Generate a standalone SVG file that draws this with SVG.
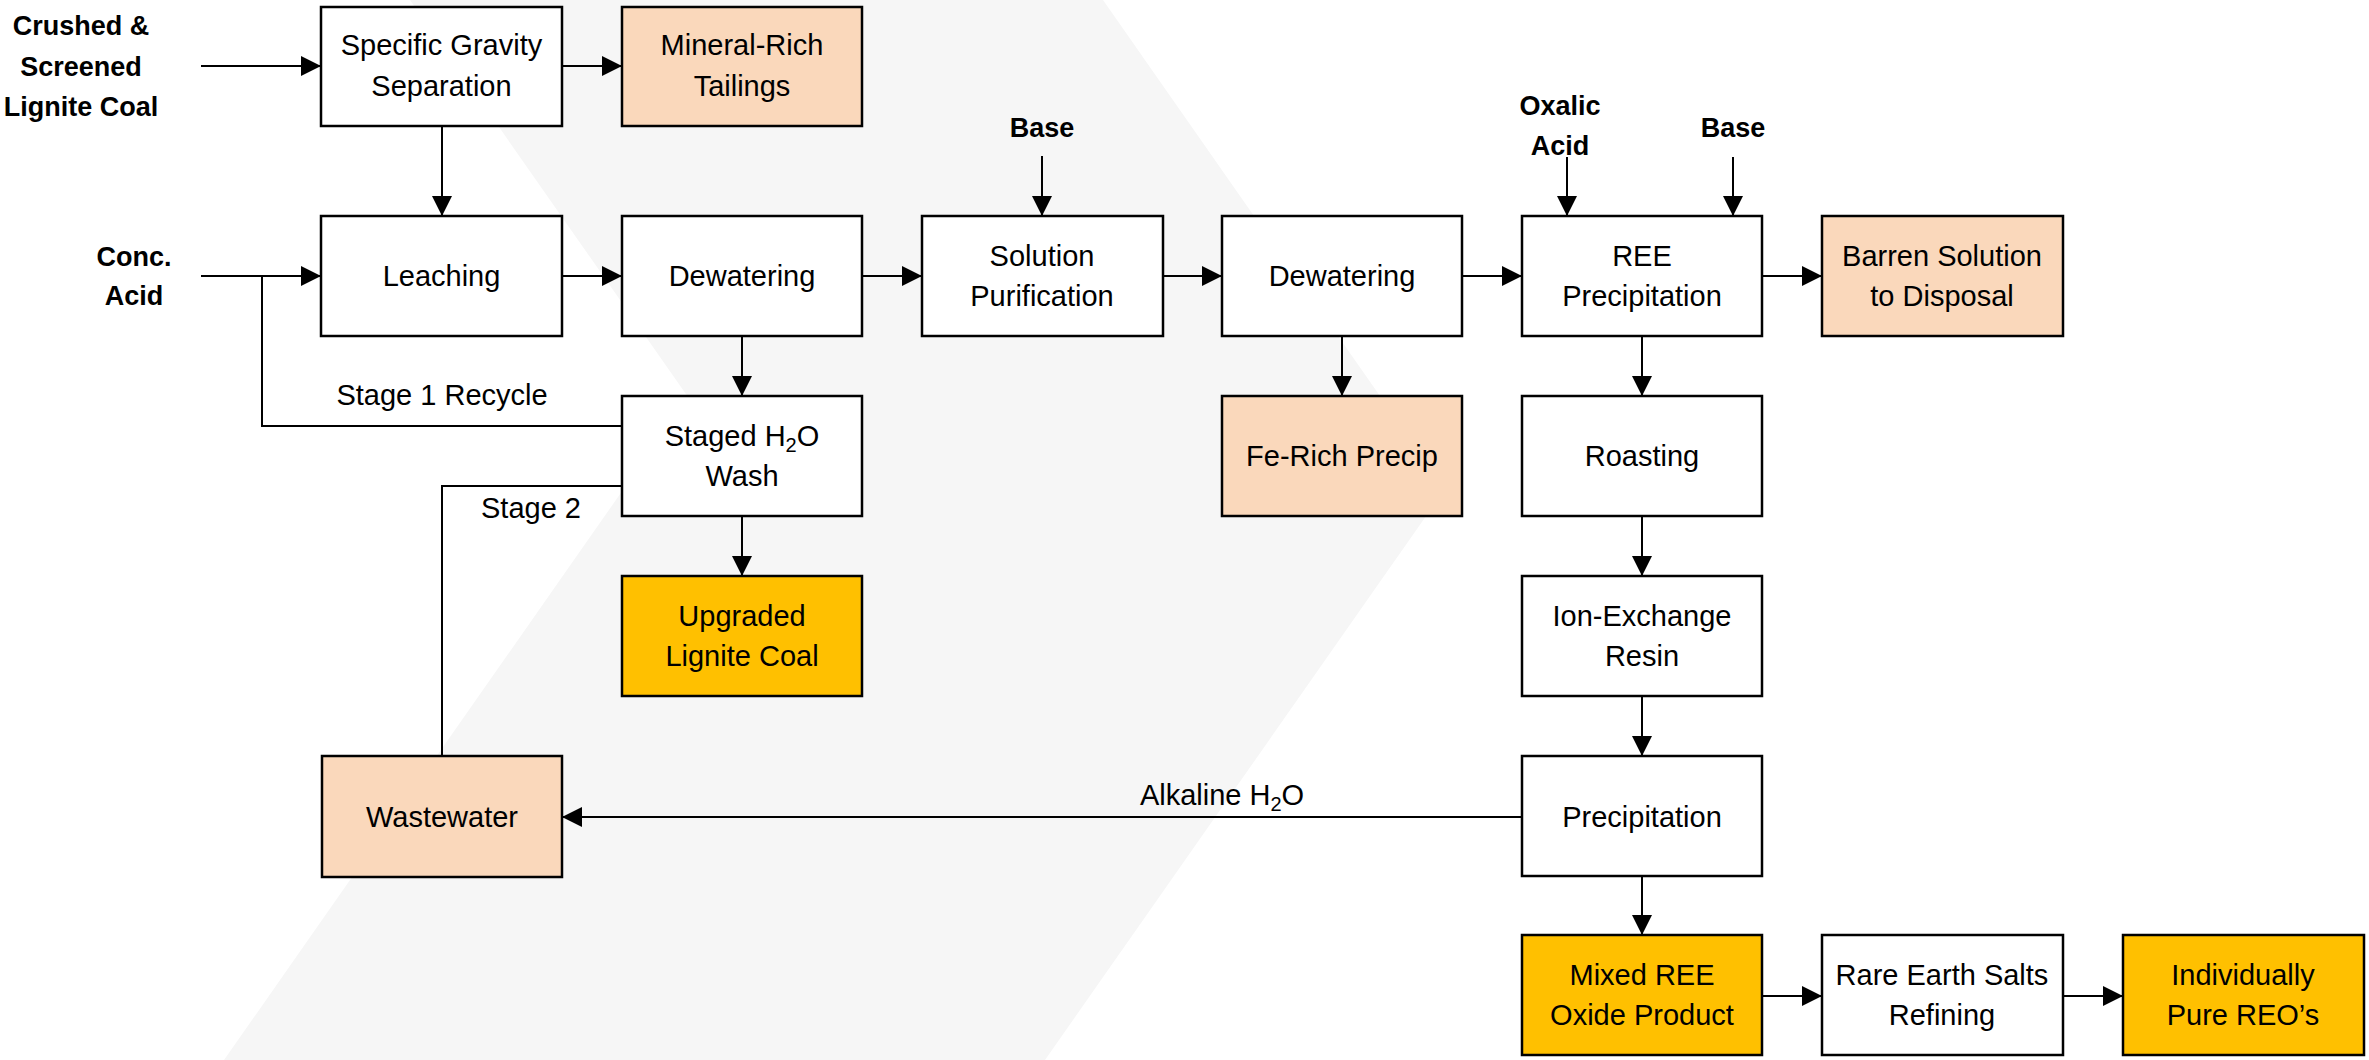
<svg xmlns="http://www.w3.org/2000/svg" width="2369" height="1060" viewBox="0 0 2369 1060">
<style>
.box{stroke:#000;stroke-width:2.5}
.w{fill:#fff}
.p{fill:#FAD8BB}
.g{fill:#FFC000}
.t{font-family:"Liberation Sans",Arial,sans-serif;font-size:29px;text-anchor:middle;fill:#000}
.b{font-family:"Liberation Sans",Arial,sans-serif;font-size:27px;font-weight:bold;text-anchor:middle;fill:#000}
.c{fill:none;stroke:#000;stroke-width:2}
.a{marker-end:url(#arr)}
</style>
<defs>
<marker id="arr" markerUnits="userSpaceOnUse" markerWidth="20" markerHeight="20" refX="20" refY="10" orient="auto">
<path d="M0,0 L20,10 L0,20 z" fill="#000"/>
</marker>
</defs>
<rect width="2369" height="1060" fill="#fff"/>
<polygon points="410,0 1103,0 1445,489 1045,1060 224,1060 688,397" fill="#f6f6f6"/>

<g id="connectors">
<line class="c a" x1="201" y1="66" x2="321" y2="66"/>
<line class="c a" x1="562" y1="66" x2="622" y2="66"/>
<line class="c a" x1="442" y1="126" x2="442" y2="216"/>
<line class="c a" x1="201" y1="276" x2="321" y2="276"/>
<polyline class="c" points="622,426 262,426 262,276"/>
<polyline class="c" points="622,486 442,486 442,756"/>
<line class="c a" x1="562" y1="276" x2="622" y2="276"/>
<line class="c a" x1="862" y1="276" x2="922" y2="276"/>
<line class="c a" x1="1163" y1="276" x2="1222" y2="276"/>
<line class="c a" x1="1462" y1="276" x2="1522" y2="276"/>
<line class="c a" x1="1762" y1="276" x2="1822" y2="276"/>
<line class="c a" x1="1042" y1="156" x2="1042" y2="216"/>
<line class="c a" x1="1567" y1="157" x2="1567" y2="216"/>
<line class="c a" x1="1733" y1="157" x2="1733" y2="216"/>
<line class="c a" x1="742" y1="336" x2="742" y2="396"/>
<line class="c a" x1="742" y1="516" x2="742" y2="576"/>
<line class="c a" x1="1342" y1="336" x2="1342" y2="396"/>
<line class="c a" x1="1642" y1="336" x2="1642" y2="396"/>
<line class="c a" x1="1642" y1="516" x2="1642" y2="576"/>
<line class="c a" x1="1642" y1="696" x2="1642" y2="756"/>
<line class="c a" x1="1522" y1="817" x2="562" y2="817"/>
<line class="c a" x1="1642" y1="876" x2="1642" y2="935"/>
<line class="c a" x1="1762" y1="996" x2="1822" y2="996"/>
<line class="c a" x1="2063" y1="996" x2="2123" y2="996"/>
<text class="t" x="442" y="405">Stage 1 Recycle</text>
<text class="t" x="531" y="518">Stage 2</text>
<text class="t" x="1222" y="805">Alkaline H<tspan font-size="20" dy="6">2</tspan><tspan dy="-6">O</tspan></text>
</g>

<g id="in-crushed">
<text class="b" x="81" y="35">Crushed &amp;</text>
<text class="b" x="81" y="76">Screened</text>
<text class="b" x="81" y="116">Lignite Coal</text>
</g>
<g id="in-acid">
<text class="b" x="134" y="266">Conc.</text>
<text class="b" x="134" y="305">Acid</text>
</g>
<g id="in-base1"><text class="b" x="1042" y="137">Base</text></g>
<g id="in-oxalic">
<text class="b" x="1560" y="115">Oxalic</text>
<text class="b" x="1560" y="155">Acid</text>
</g>
<g id="in-base2"><text class="b" x="1733" y="137">Base</text></g>

<g id="sg"><rect class="box w" x="321" y="7" width="241" height="119"/>
<text class="t" x="441.5" y="55">Specific Gravity</text><text class="t" x="441.5" y="96">Separation</text></g>
<g id="tailings"><rect class="box p" x="622" y="7" width="240" height="119"/>
<text class="t" x="742" y="55">Mineral-Rich</text><text class="t" x="742" y="96">Tailings</text></g>

<g id="leaching"><rect class="box w" x="321" y="216" width="241" height="120"/>
<text class="t" x="441.5" y="286">Leaching</text></g>
<g id="dew1"><rect class="box w" x="622" y="216" width="240" height="120"/>
<text class="t" x="742" y="286">Dewatering</text></g>
<g id="solpur"><rect class="box w" x="922" y="216" width="241" height="120"/>
<text class="t" x="1042" y="266">Solution</text><text class="t" x="1042" y="306">Purification</text></g>
<g id="dew2"><rect class="box w" x="1222" y="216" width="240" height="120"/>
<text class="t" x="1342" y="286">Dewatering</text></g>
<g id="reeprecip"><rect class="box w" x="1522" y="216" width="240" height="120"/>
<text class="t" x="1642" y="266">REE</text><text class="t" x="1642" y="306">Precipitation</text></g>
<g id="barren"><rect class="box p" x="1822" y="216" width="241" height="120"/>
<text class="t" x="1942" y="266">Barren Solution</text><text class="t" x="1942" y="306">to Disposal</text></g>

<g id="wash"><rect class="box w" x="622" y="396" width="240" height="120"/>
<text class="t" x="742" y="446">Staged H<tspan font-size="20" dy="6">2</tspan><tspan dy="-6">O</tspan></text><text class="t" x="742" y="486">Wash</text></g>
<g id="ferich"><rect class="box p" x="1222" y="396" width="240" height="120"/>
<text class="t" x="1342" y="466">Fe-Rich Precip</text></g>
<g id="roasting"><rect class="box w" x="1522" y="396" width="240" height="120"/>
<text class="t" x="1642" y="466">Roasting</text></g>

<g id="upgraded"><rect class="box g" x="622" y="576" width="240" height="120"/>
<text class="t" x="742" y="626">Upgraded</text><text class="t" x="742" y="666">Lignite Coal</text></g>
<g id="ionex"><rect class="box w" x="1522" y="576" width="240" height="120"/>
<text class="t" x="1642" y="626">Ion-Exchange</text><text class="t" x="1642" y="666">Resin</text></g>

<g id="wastewater"><rect class="box p" x="322" y="756" width="240" height="121"/>
<text class="t" x="442" y="827">Wastewater</text></g>
<g id="precip"><rect class="box w" x="1522" y="756" width="240" height="120"/>
<text class="t" x="1642" y="827">Precipitation</text></g>

<g id="mixed"><rect class="box g" x="1522" y="935" width="240" height="120"/>
<text class="t" x="1642" y="985">Mixed REE</text><text class="t" x="1642" y="1025">Oxide Product</text></g>
<g id="refining"><rect class="box w" x="1822" y="935" width="241" height="120"/>
<text class="t" x="1942" y="985">Rare Earth Salts</text><text class="t" x="1942" y="1025">Refining</text></g>
<g id="pure"><rect class="box g" x="2123" y="935" width="241" height="120"/>
<text class="t" x="2243" y="985">Individually</text><text class="t" x="2243" y="1025">Pure REO’s</text></g>
</svg>
